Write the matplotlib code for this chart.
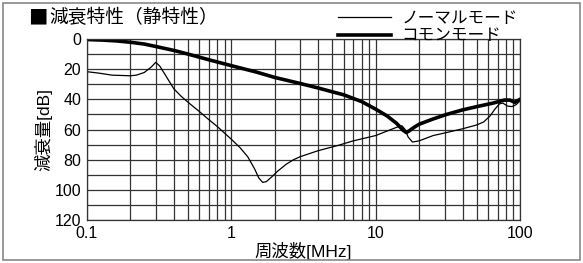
import numpy as np
import matplotlib
matplotlib.use("Agg")
import matplotlib.pyplot as plt
from matplotlib.patches import Rectangle

plt.rcParams['font.family'] = ['Liberation Sans', 'Noto Sans CJK JP', 'DejaVu Sans']

# normal mode (thin line)
normal_f = [0.1, 0.12, 0.15, 0.2, 0.22, 0.25, 0.28, 0.3, 0.32, 0.35, 0.4, 0.45, 0.51,
            0.6, 0.69, 0.8, 1.0, 1.15, 1.3, 1.45, 1.55, 1.65, 1.75, 1.9, 2.1, 2.4,
            2.7, 3.0, 4.0, 5.5, 7.0, 10, 12, 14, 15.2, 16, 16.8, 18, 20, 25, 31,
            40, 50, 56, 62, 67, 72, 76, 82, 88, 94, 100]
normal_db = [21.7, 22.6, 24, 24.4, 24, 22.2, 18.5, 15.5, 18, 24, 33, 38, 42.5,
             48, 53, 58, 66.4, 72, 78, 86, 92, 95, 94.5, 91.5, 87.5, 83,
             80, 78, 74, 70.5, 67.5, 64, 61, 58.5, 57.5, 60, 65, 68.3, 67.5, 64, 62,
             59.5, 57, 55, 51, 46.5, 43, 42.5, 44.5, 44.8, 43.5, 41]

# common mode (thick line)
common_f = [0.1, 0.13, 0.16, 0.2, 0.25, 0.3, 0.4, 0.5, 0.7, 1.0, 1.5, 2.0, 3.0, 4.0,
            5.0, 6.0, 8.0, 10, 12, 14, 15.5, 16.3, 17, 18.5, 20, 25, 31, 40, 52,
            65, 78, 85, 92, 100]
common_db = [0.4, 0.8, 1.3, 2.2, 3.4, 5, 7.6, 10, 13.8, 17.7, 22, 25.5, 29.5, 32.5,
             35, 37, 41.5, 46.5, 51, 56, 60.5, 62, 61, 58.5, 56.5, 53, 50, 47, 44.5,
             42.5, 40.5, 40.5, 42, 40]

yticks = [0, 20, 40, 60, 80, 100, 120]
xticks = [0.1, 1, 10, 100]
xticklabels = ['0.1', '1', '10', '100']

fig = plt.figure(figsize=(5.83, 2.63), dpi=100)
ax = fig.add_axes([0.149, 0.163, 0.743, 0.689])

ax.plot(normal_f, normal_db, color='black', lw=0.9, label='ノーマルモード')
ax.plot(common_f, common_db, color='black', lw=2.6, label='コモンモード',
        solid_joinstyle='round')

ax.set_xscale('log')
ax.set_xlim(0.1, 100)
ax.set_ylim(120, 0)
ax.set_xticks(xticks)
ax.set_xticklabels(xticklabels)
ax.set_yticks(yticks)
ax.set_yticks(np.arange(0, 121, 10), minor=True)
ax.xaxis.set_minor_formatter(plt.NullFormatter())
ax.tick_params(which='both', length=0, labelsize=11.5, pad=4)
ax.grid(which='both', color='#333333', lw=0.9)
for s in ax.spines.values():
    s.set_color('#333333')
    s.set_linewidth(0.9)

ax.set_xlabel('周波数[MHz]', fontsize=12.5, labelpad=1)
ax.set_ylabel('減衰量[dB]', fontsize=12.5, labelpad=2)

fig.text(0.048, 0.93, '■', fontsize=14, va='center', ha='left',
         family=['Noto Sans CJK JP', 'DejaVu Sans'])
fig.text(0.085, 0.93, '減衰特性（静特性）', fontsize=13.5, va='center', ha='left')

ax.legend(loc='lower right', bbox_to_anchor=(0.995, 0.975), frameon=False,
          fontsize=12, handlelength=3.2, handletextpad=0.6, labelspacing=0.15,
          borderpad=0, borderaxespad=0)

fig.patches.append(Rectangle((0.006, 0.012), 0.988, 0.976, transform=fig.transFigure,
                             fill=False, edgecolor='#888888', lw=1.2))

fig.savefig('out.png', dpi=100)
